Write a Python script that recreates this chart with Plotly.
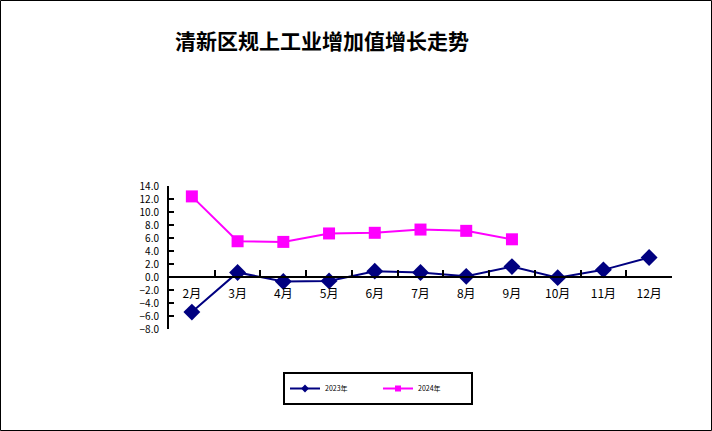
import plotly.graph_objects as go

# 月份与两年的增速(%)
months = ['2月', '3月', '4月', '5月', '6月', '7月', '8月', '9月', '10月', '11月', '12月']
val_2023 = [-5.4, 0.7, -0.7, -0.6, 0.9, 0.7, 0.1, 1.6, -0.1, 1.1, 3.0]
val_2024 = [12.4, 5.5, 5.4, 6.7, 6.8, 7.3, 7.1, 5.8]
y_ticks = [-8, -6, -4, -2, 0, 2, 4, 6, 8, 10, 12, 14]

W, H = 712, 431
ML, MR, MT, MB = 169, 40, 186, 102
pw, ph = W - ML - MR, H - MT - MB


def px_x(x):
    return (x - ML) / pw


def px_y(y):
    return (H - MB - y) / ph


font_cn = 'SimSun, "Noto Sans CJK SC", sans-serif'
c23, c24 = '#000080', '#FF00FF'

fig = go.Figure()
fig.add_trace(go.Scatter(
    x=months, y=val_2023, name='2023年', mode='lines+markers', showlegend=False,
    line=dict(color=c23, width=2),
    marker=dict(symbol='diamond', size=13, color=c23)))
fig.add_trace(go.Scatter(
    x=months[:len(val_2024)], y=val_2024, name='2024年', mode='lines+markers',
    showlegend=False,
    line=dict(color=c24, width=2),
    marker=dict(symbol='square', size=12, color=c24)))

# 图例用的小号样式
fig.add_trace(go.Scatter(x=[None], y=[None], name='2023年', mode='lines+markers',
                         line=dict(color=c23, width=2),
                         marker=dict(symbol='diamond', size=6, color=c23)))
fig.add_trace(go.Scatter(x=[None], y=[None], name='2024年', mode='lines+markers',
                         line=dict(color=c24, width=2),
                         marker=dict(symbol='square', size=6, color=c24)))

fig.update_xaxes(
    type='category', categoryarray=months, range=[-0.5, 10.5],
    anchor='free', position=8 / 22,
    showline=True, linecolor='black', linewidth=2,
    ticks='inside', tickson='boundaries', ticklen=6, tickwidth=2, tickcolor='black',
    ticklabelstandoff=6,
    showgrid=False, zeroline=False,
    tickfont=dict(family=font_cn, size=12, color='black'))
fig.update_yaxes(
    range=[-8, 14], tickvals=y_ticks, tickformat='.1f',
    showline=True, linecolor='black', linewidth=2,
    ticks='inside', ticklen=5, tickwidth=2, tickcolor='black',
    ticklabelstandoff=6,
    showgrid=False, zeroline=False,
    tickfont=dict(family=font_cn, size=10, color='black'))

fig.add_annotation(
    text='<b>清新区规上工业增加值增长走势</b>', showarrow=False,
    xref='paper', yref='paper', x=px_x(322), y=px_y(40),
    xanchor='center', yanchor='middle',
    font=dict(family=font_cn, size=21, color='black'))

# 外框
fig.add_shape(type='rect', xref='paper', yref='paper',
              x0=px_x(0.5), x1=px_x(711.5), y0=px_y(430.5), y1=px_y(0.5),
              line=dict(color='black', width=1))

fig.update_layout(
    width=W, height=H,
    margin=dict(l=ML, r=MR, t=MT, b=MB),
    paper_bgcolor='white', plot_bgcolor='white',
    showlegend=True,
    legend=dict(orientation='h', x=px_x(378), y=px_y(388.5),
                xanchor='center', yanchor='middle',
                bordercolor='black', borderwidth=2, bgcolor='white',
                entrywidth=48, tracegroupgap=0,
                font=dict(family=font_cn, size=7, color='black')))

fig.write_html('out.html', config={'displayModeBar': False},
               post_script="document.body.style.margin='0';")
